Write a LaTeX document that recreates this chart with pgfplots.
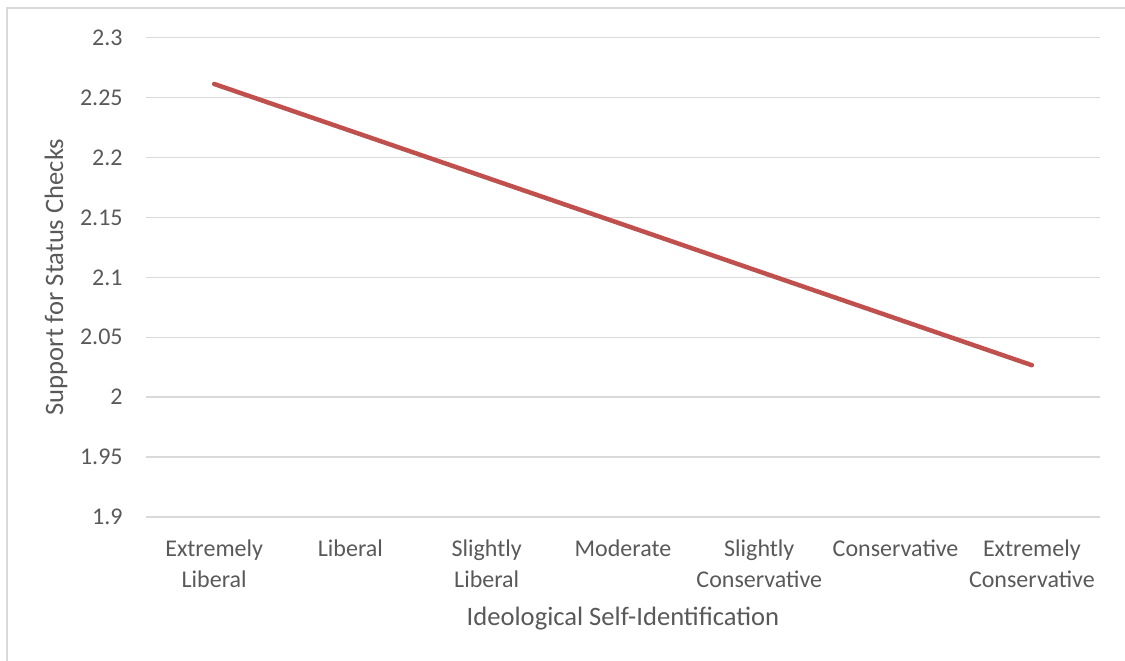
\documentclass[border=0pt]{standalone}
\usepackage{fontspec}
\setmainfont{Carlito}
\usepackage{pgfplots}
\pgfplotsset{compat=1.18}
\definecolor{txtgray}{HTML}{595959}
\definecolor{linegray}{HTML}{D9D9D9}
\definecolor{seriesred}{HTML}{C0504D}

\pgfplotstableread{
x  y
0  2.2614
1  2.2223
2  2.1832
3  2.1441
4  2.1049
5  2.0658
6  2.0267
}\support

\begin{document}
\begin{tikzpicture}[x=0.5pt,y=0.5pt]
  \useasboundingbox (0,0) rectangle (1125,-660);
  % chart frame (runs past the right and bottom edges of the page)
  \draw[linegray, line width=0.6pt] (7,-700) -- (7,-8) -- (1200,-8);
  \begin{axis}[
    at={(73pt,-258.5pt)}, anchor=south west,
    scale only axis,
    width=477pt, height=239.65pt,
    xmin=-0.5, xmax=6.5,
    ymin=1.9, ymax=2.3,
    xtick={0,1,2,3,4,5,6},
    xticklabels={{Extremely\\Liberal},{Liberal},{Slightly\\Liberal},{Moderate},{Slightly\\Conservative},{Conservative},{Extremely\\Conservative}},
    ytick={1.9,1.95,2,2.05,2.1,2.15,2.2,2.25,2.3},
    /pgf/number format/assume math mode=true,
    ymajorgrids=true,
    xmajorgrids=false,
    major grid style={draw=linegray, line width=0.7pt},
    axis line style={draw=none},
    major tick length=0pt,
    tick style={draw=none},
    x tick label style={font=\fontsize{12}{15.5}\selectfont, text=txtgray, align=center, anchor=north, inner sep=0pt, yshift=-11pt},
    y tick label style={font=\fontsize{12}{14}\selectfont, text=txtgray, anchor=east, inner sep=0pt, xshift=-11.5pt},
    clip=false,
  ]
    \addplot[seriesred, line width=2.25pt, line cap=round, line join=round, mark=none] table[x=x, y=y] {\support};
  \end{axis}
  \node[text=txtgray, font=\fontsize{13.3}{16}\selectfont, anchor=base] at (623,-625) {Ideological Self-Identification};
  \node[text=txtgray, font=\fontsize{13.3}{16}\selectfont, anchor=base, rotate=90] at (63,-277) {Support for Status Checks};
\end{tikzpicture}
\end{document}
